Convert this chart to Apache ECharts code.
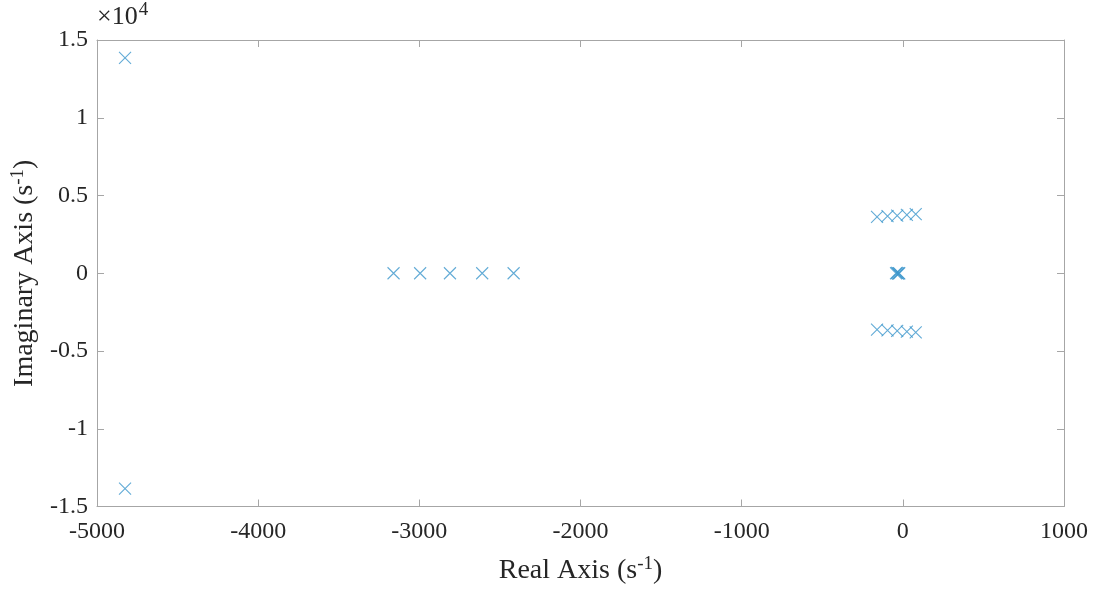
<!DOCTYPE html>
<html>
<head>
<meta charset="utf-8">
<script src="https://cdn.jsdelivr.net/npm/echarts@6/dist/echarts.min.js"></script>
<style>html,body{margin:0;padding:0;background:#fff}#c{width:1096px;height:590px}</style>
</head>
<body>
<div id="c"></div>
<script>
// Pole locations (real part, imaginary part), s^-1
var poleRe = [-4826, -4826, -3160, -2995, -2810, -2610, -2415,
              -160, -95, -35, 25, 80,
              -160, -95, -35, 25, 80,
              -42, -36, -30, -26, -22];
var poleIm = [13850, -13850, 0, 0, 0, 0, 0,
              3620, 3670, 3710, 3750, 3800,
              -3620, -3670, -3710, -3750, -3800,
              0, 20, -20, 10, -10];
var xTicks = [-5000, -4000, -3000, -2000, -1000, 0, 1000];
var xTickLabels = ['-5000', '-4000', '-3000', '-2000', '-1000', '0', '1000'];
var yTicks = [-15000, -10000, -5000, 0, 5000, 10000, 15000];
var yTickLabels = ['-1.5', '-1', '-0.5', '0', '0.5', '1', '1.5'];

var data = poleRe.map(function (r, i) { return [r, poleIm[i]]; });
var font = '"Liberation Serif", "Times New Roman", serif';
var frame = '#a6a6a6';
var txt = '#262626';
var chart = echarts.init(document.getElementById('c'));
var xAxisBase = {
  type: 'value', min: xTicks[0], max: xTicks[xTicks.length - 1], interval: 1000,
  axisLine: { show: true, onZero: false, lineStyle: { color: frame, width: 1 } },
  axisTick: { show: true, inside: true, length: 7, lineStyle: { color: frame } },
  splitLine: { show: false }
};
var yAxisBase = {
  type: 'value', min: yTicks[0], max: yTicks[yTicks.length - 1], interval: 5000,
  axisLine: { show: true, onZero: false, lineStyle: { color: frame, width: 1 } },
  axisTick: { show: true, inside: true, length: 7, lineStyle: { color: frame } },
  splitLine: { show: false }
};
var richName = {
  t: { fontFamily: font, fontSize: 28, color: txt },
  s: { fontFamily: font, fontSize: 19, color: txt, verticalAlign: 'top', padding: [0, 0, 14, 0] }
};
chart.setOption({
  animation: false,
  backgroundColor: '#fff',
  grid: { left: 97, right: 32, top: 40, bottom: 83 },
  xAxis: [
    Object.assign({}, xAxisBase, {
      position: 'bottom',
      axisLabel: { color: txt, fontFamily: font, fontSize: 24, margin: 13,
        formatter: function (v) { return xTickLabels[xTicks.indexOf(v)]; } },
      name: '{t|Real Axis (s}{s|-1}{t|)}',
      nameLocation: 'middle', nameGap: 48,
      nameTextStyle: { rich: richName }
    }),
    Object.assign({}, xAxisBase, { position: 'top', axisLabel: { show: false } })
  ],
  yAxis: [
    Object.assign({}, yAxisBase, {
      position: 'left',
      axisLabel: { color: txt, fontFamily: font, fontSize: 24, margin: 9,
        formatter: function (v) { return yTickLabels[yTicks.indexOf(v)]; } },
      name: '{t|Imaginary Axis (s}{s|-1}{t|)}',
      nameLocation: 'middle', nameGap: 50, nameRotate: 90,
      nameTextStyle: { rich: richName }
    }),
    Object.assign({}, yAxisBase, { position: 'right', axisLabel: { show: false } })
  ],
  graphic: [{
    type: 'text', left: 97, top: 1,
    style: {
      text: '{t|×10}{s|4}',
      rich: {
        t: { fontFamily: font, fontSize: 26, fill: txt },
        s: { fontFamily: font, fontSize: 19, fill: txt, verticalAlign: 'top', padding: [0, 0, 13, 1] }
      }
    }
  }],
  series: [{
    type: 'scatter',
    xAxisIndex: 0, yAxisIndex: 0,
    data: data,
    symbol: 'path://M0,0L10,10M10,0L0,10',
    symbolSize: 12,
    itemStyle: { color: 'rgba(0,0,0,0)', borderColor: '#3b96cc', borderWidth: 1.1 },
    emphasis: { disabled: true }
  }]
});
</script>
</body>
</html>
